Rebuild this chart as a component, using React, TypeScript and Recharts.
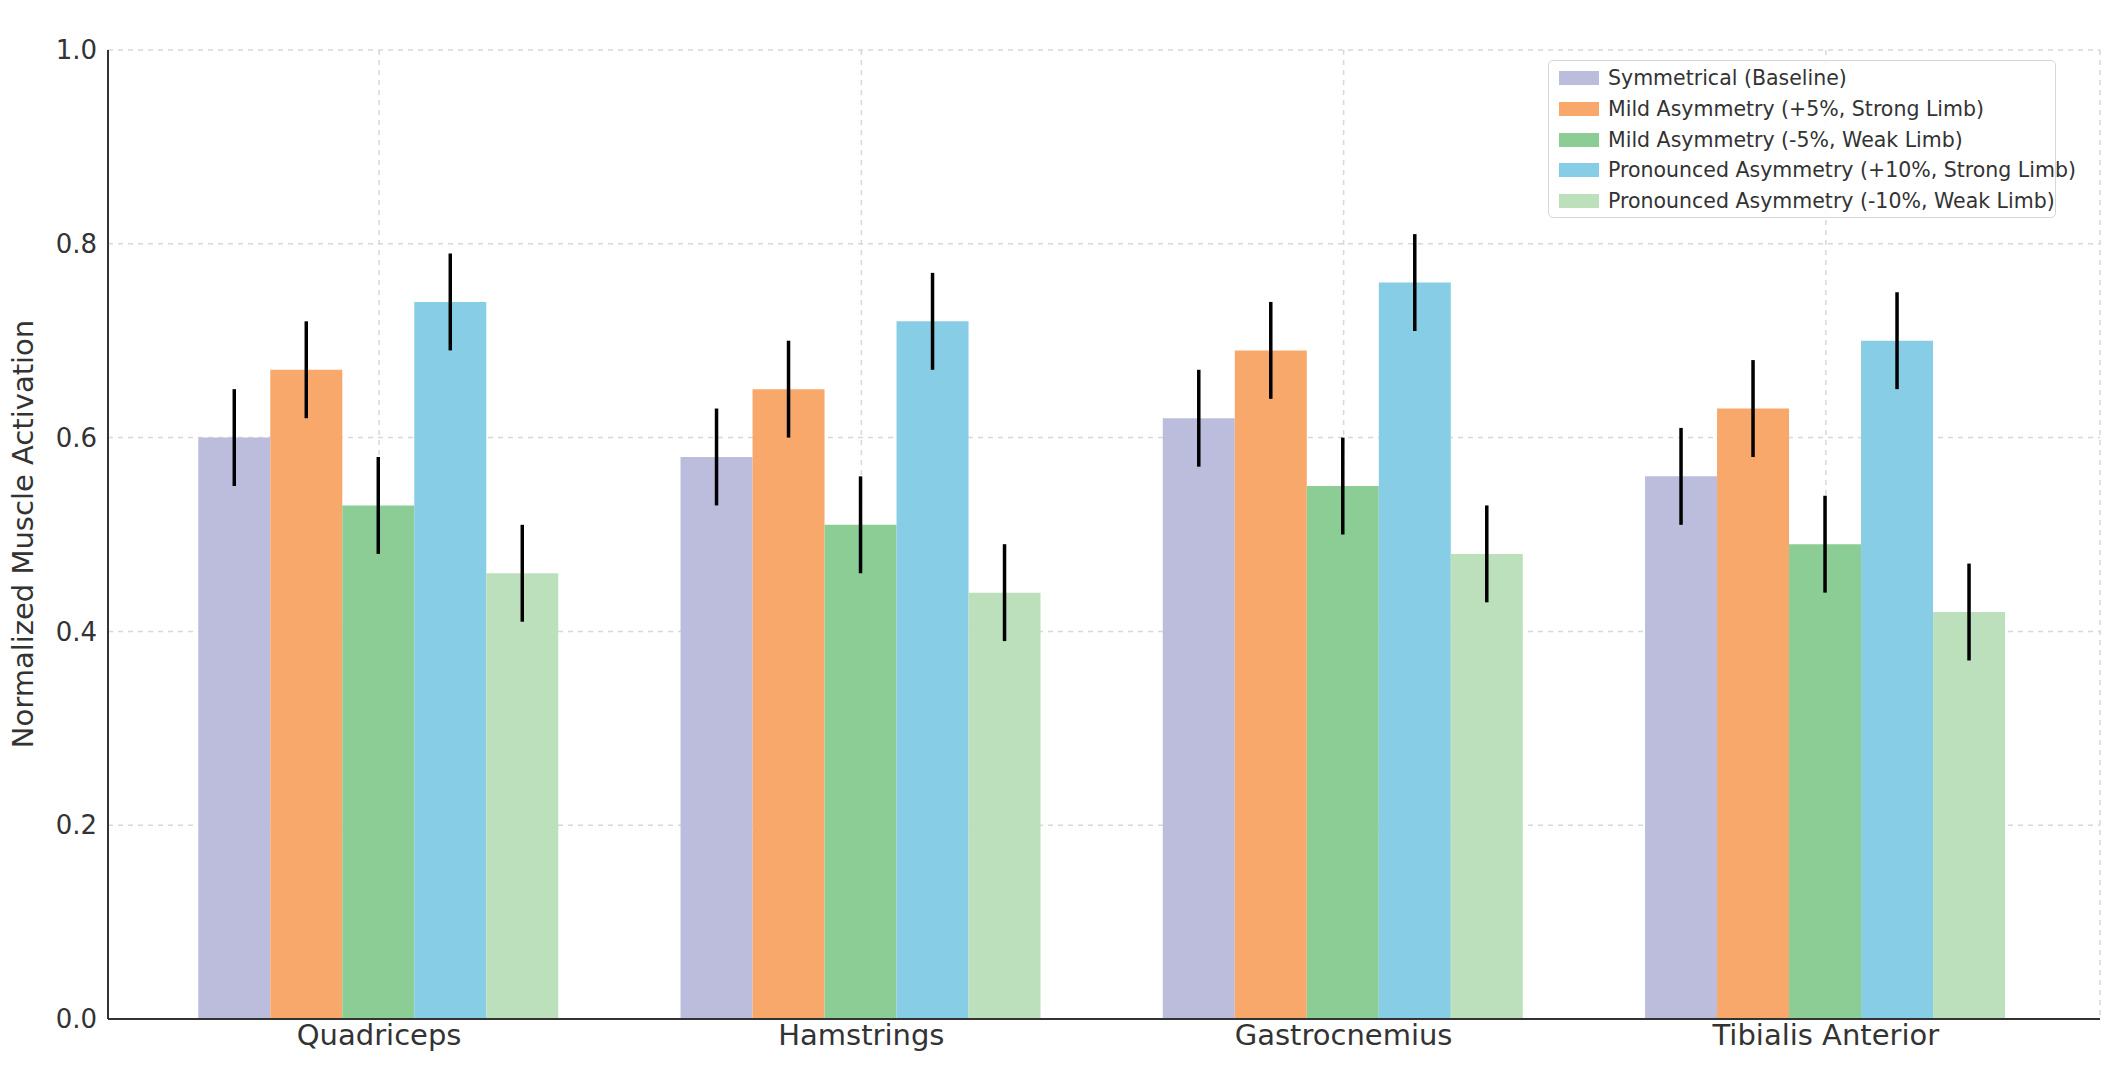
import React from "react";
import {
  BarChart,
  Bar,
  XAxis,
  YAxis,
  CartesianGrid,
  Legend,
  ErrorBar,
} from "recharts";

const CATEGORIES = ["Quadriceps", "Hamstrings", "Gastrocnemius", "Tibialis Anterior"];
const SYMMETRICAL = [0.6, 0.58, 0.62, 0.56];
const MILD_STRONG = [0.67, 0.65, 0.69, 0.63];
const MILD_WEAK = [0.53, 0.51, 0.55, 0.49];
const PRON_STRONG = [0.74, 0.72, 0.76, 0.7];
const PRON_WEAK = [0.46, 0.44, 0.48, 0.42];
const ERRORS = [0.05, 0.05, 0.05, 0.05];
const Y_TICKS = [0, 0.2, 0.4, 0.6, 0.8, 1.0];

const SERIES = [
  { key: "sym", name: "Symmetrical (Baseline)", color: "#bcbddc", values: SYMMETRICAL },
  { key: "mildStrong", name: "Mild Asymmetry (+5%, Strong Limb)", color: "#f9a86b", values: MILD_STRONG },
  { key: "mildWeak", name: "Mild Asymmetry (-5%, Weak Limb)", color: "#8ccd95", values: MILD_WEAK },
  { key: "pronStrong", name: "Pronounced Asymmetry (+10%, Strong Limb)", color: "#87cde5", values: PRON_STRONG },
  { key: "pronWeak", name: "Pronounced Asymmetry (-10%, Weak Limb)", color: "#bde0bc", values: PRON_WEAK },
];

const data = CATEGORIES.map((name, i) => {
  const row: Record<string, string | number> = { name };
  SERIES.forEach((s) => {
    row[s.key] = s.values[i];
    row[s.key + "Err"] = ERRORS[i];
  });
  return row;
});

const LegendBox = () => (
  <div
    style={{
      background: "rgba(255,255,255,0.85)",
      border: "1.5px solid #d6d6d6",
      borderRadius: 5,
      padding: "2px 0",
      boxSizing: "border-box",
      width: 508,
      height: 158,
    }}
  >
    {SERIES.map((s) => (
      <div
        key={s.key}
        style={{ display: "flex", alignItems: "center", height: 30.7 }}
      >
        <div
          style={{
            flex: "0 0 40px",
            width: 40,
            height: 14,
            background: s.color,
            marginLeft: 10,
            marginRight: 9,
          }}
        />
        <span style={{ fontSize: 20.5, color: "#333", whiteSpace: "nowrap" }}>{s.name}</span>
      </div>
    ))}
  </div>
);

const App: React.FC = () => {
  return (
    <div
      style={{
        position: "absolute",
        left: 0,
        top: 0,
        width: 2122,
        height: 1075,
        background: "#fff",
        fontFamily: "'DejaVu Sans', sans-serif",
      }}
    >
      <BarChart
        width={2122}
        height={1075}
        data={data}
        margin={{ top: 50, right: 22, left: 0, bottom: 0 }}
        barCategoryGap="12.5%"
        barGap={0}
      >
        <CartesianGrid stroke="#d8d8d8" strokeDasharray="5 5" strokeWidth={1.5} />
        <XAxis
          dataKey="name"
          height={56}
          padding={{ left: 30, right: 33 }}
          tickLine={false}
          tickMargin={-1}
          axisLine={{ stroke: "#333", strokeWidth: 2 }}
          tick={{ fontSize: 29, fill: "#333" }}
        />
        <YAxis
          width={108}
          domain={[0, 1]}
          ticks={Y_TICKS}
          tickFormatter={(v: number) => v.toFixed(1)}
          tickLine={false}
          tickMargin={5}
          axisLine={{ stroke: "#333", strokeWidth: 2 }}
          tick={{ fontSize: 26, fill: "#333" }}
          label={{
            content: () => (
              <text
                x={23}
                y={534}
                transform="rotate(-90 23 534)"
                textAnchor="middle"
                dominantBaseline="central"
                fontSize={29}
                fill="#333"
              >
                Normalized Muscle Activation
              </text>
            ),
          }}
        />
        <Legend
          layout="horizontal"
          verticalAlign="middle"
          align="center"
          content={() => <LegendBox />}
          wrapperStyle={{ top: 60, left: 1548, width: 508, height: 158 }}
        />
        {SERIES.map((s) => (
          <Bar
            key={s.key}
            dataKey={s.key}
            name={s.name}
            fill={s.color}
            isAnimationActive={false}
          >
            <ErrorBar
              dataKey={s.key + "Err"}
              width={0}
              stroke="#000"
              strokeWidth={3.5}
              direction="y"
              isAnimationActive={false}
            />
          </Bar>
        ))}
      </BarChart>
    </div>
  );
};

export default App;
